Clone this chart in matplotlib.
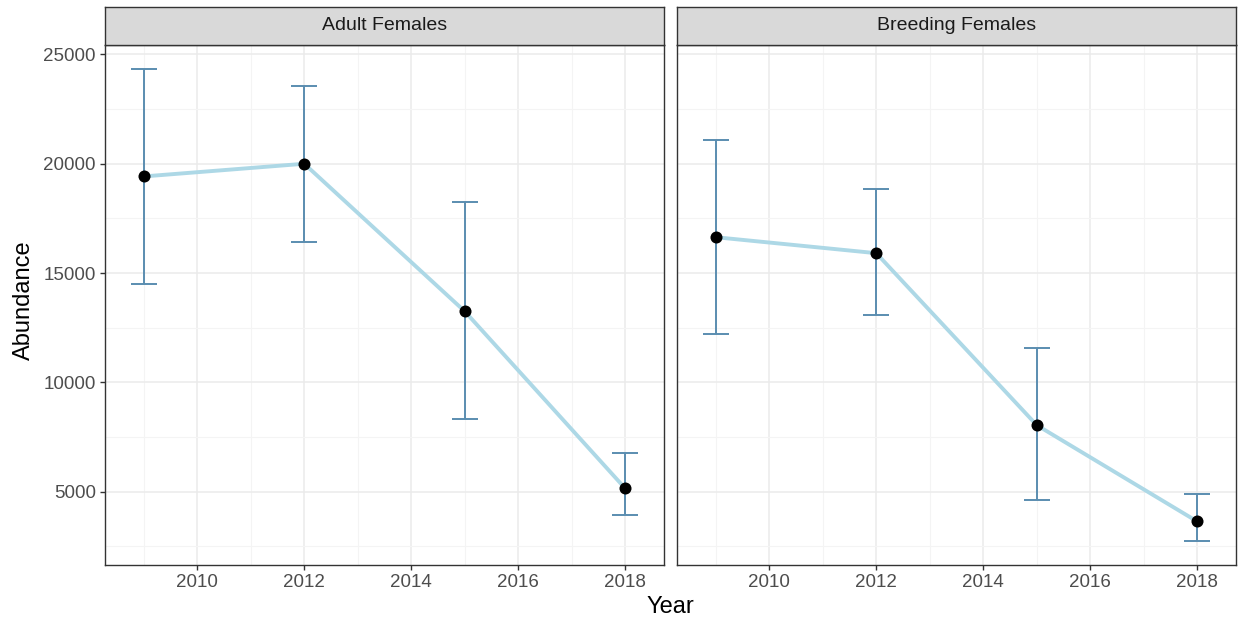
import matplotlib
matplotlib.use("Agg")
import matplotlib.pyplot as plt
from matplotlib.ticker import FixedLocator

years = [2009, 2012, 2015, 2018]
panels = ["Adult Females", "Breeding Females"]
adult_est = [19420, 20000, 13250, 5150]
adult_lo = [14480, 16440, 8305, 3940]
adult_hi = [24350, 23560, 18230, 6790]
breed_est = [16640, 15910, 8045, 3640]
breed_lo = [12230, 13070, 4620, 2730]
breed_hi = [21105, 18864, 11590, 4880]

x_ticks = [2010, 2012, 2014, 2016, 2018]
y_ticks = [5000, 10000, 15000, 20000, 25000]

W, H = 1238, 625
fig = plt.figure(figsize=(W / 100, H / 100), dpi=100)
plt.rcParams['font.family'] = ['Liberation Sans', 'DejaVu Sans']

def fx(px):
    return px / W

def fy(py):
    return 1 - py / H

panel_px = [(105, 664), (677, 1236)]
top, bot, strip_top = 45, 565, 7

data = [(adult_est, adult_lo, adult_hi), (breed_est, breed_lo, breed_hi)]

all_lo = min(adult_lo + breed_lo)
all_hi = max(adult_hi + breed_hi)
rng = all_hi - all_lo
ylim = (all_lo - 0.05 * rng, all_hi + 0.05 * rng)
capw = 0.5
xr = (years[-1] + capw / 2) - (years[0] - capw / 2)
xlim = (years[0] - capw / 2 - 0.05 * xr, years[-1] + capw / 2 + 0.05 * xr)

for i, (l, r) in enumerate(panel_px):
    ax = fig.add_axes([fx(l), fy(bot), fx(r - l), (bot - top) / H])
    est, lo, hi = data[i]
    ax.set_xlim(*xlim)
    ax.set_ylim(*ylim)
    ax.xaxis.set_major_locator(FixedLocator(x_ticks))
    ax.xaxis.set_minor_locator(FixedLocator([2009, 2011, 2013, 2015, 2017]))
    ax.yaxis.set_major_locator(FixedLocator(y_ticks))
    ax.yaxis.set_minor_locator(FixedLocator([2500, 7500, 12500, 17500, 22500]))
    ax.grid(which='major', color='#EBEBEB', linewidth=1.1, zorder=0)
    ax.grid(which='minor', color='#F4F4F4', linewidth=0.8, zorder=0)
    ax.set_axisbelow(True)
    for s in ax.spines.values():
        s.set_color('#333333')
        s.set_linewidth(1.0)
    ax.tick_params(which='major', length=3.5, width=1.0, color='#333333',
                   labelsize=13.5, labelcolor='#4D4D4D', pad=3)
    ax.tick_params(which='minor', length=0)
    if i > 0:
        ax.tick_params(axis='y', labelleft=False, length=0)
    ax.plot(years, est, color='#ADD8E6', linewidth=2.8, zorder=3)
    yerr = [[e - a for e, a in zip(est, lo)], [b - e for e, b in zip(est, hi)]]
    ax.errorbar(years, est, yerr=yerr, fmt='none', ecolor='#5A8DB0',
                elinewidth=1.4, capsize=9.7, capthick=1.4, zorder=2)
    ax.scatter(years, est, s=75, color='black', zorder=4, linewidths=0)

    sax = fig.add_axes([fx(l), fy(top), fx(r - l), (top - strip_top) / H])
    sax.set_facecolor('#D9D9D9')
    sax.set_xticks([])
    sax.set_yticks([])
    for s in sax.spines.values():
        s.set_color('#333333')
        s.set_linewidth(1.0)
    sax.text(0.5, 0.5, panels[i], ha='center', va='center', fontsize=14,
             color='#1A1A1A', transform=sax.transAxes)

fig.text(fx(670), fy(607), "Year", ha='center', va='center',
         fontsize=17, color='black')
fig.text(fx(24), fy(300), "Abundance", ha='center', va='center',
         fontsize=17, color='black', rotation=90)

fig.savefig("out.png", dpi=100)
